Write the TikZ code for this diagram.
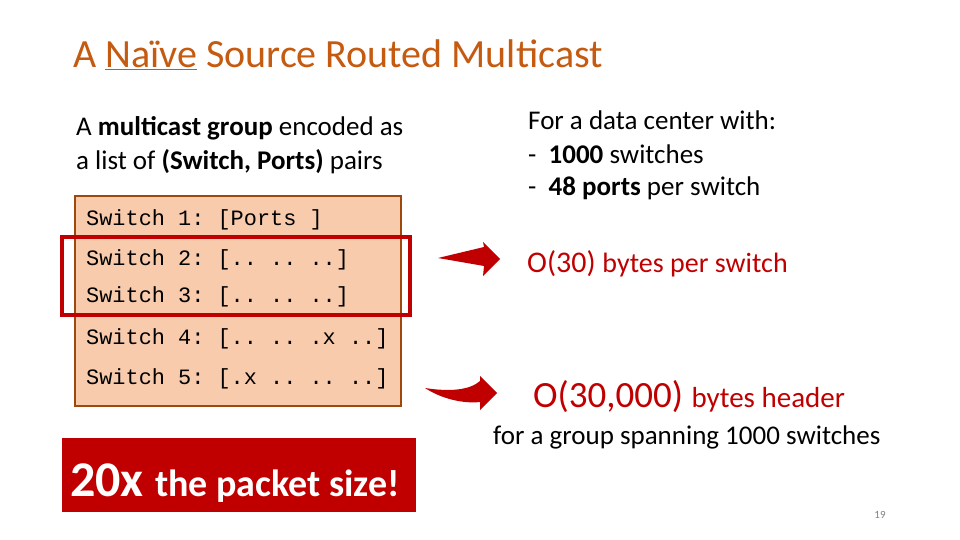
\documentclass[tikz,border=0pt]{standalone}
\usepackage{fontspec}
\setmainfont{Carlito}
\setmonofont{Liberation Mono}
\usetikzlibrary{positioning}
\definecolor{titlebrown}{HTML}{C55A11}
\definecolor{peach}{HTML}{F8CBAD}
\definecolor{deepred}{HTML}{C00000}
\tikzset{
  body text/.style={anchor=west, inner sep=0pt, font=\fontsize{27}{30}\selectfont},
  mono line/.style={anchor=west, inner sep=0pt, font=\ttfamily\fontsize{21.9}{24}\selectfont},
  fat arrow/.style={fill=deepred, draw=none}
}
\begin{document}
\begin{tikzpicture}[x=1pt,y=-1pt]
\useasboundingbox (0,0) rectangle (960,540);
% title
\node (title) [anchor=base west, inner sep=0pt, text=titlebrown, font=\fontsize{40}{44}\selectfont]
  at (73,68) {A \underline{Naïve} Source Routed Multicast};
% left description
\node (desc1) [body text] at (76,128) {A \textbf{multicast group} encoded as};
\node (desc2) [body text] at (76,162) {a list of \textbf{(Switch, Ports)} pairs};
% list box
\draw[fill=peach, draw=titlebrown!80!black, line width=1.5pt] (75,196) rectangle (401,406);
\node (sw1) [mono line] at (86,220) {Switch 1: [Ports ]};
\node (sw2) [mono line] at (86,260) {Switch 2: [.. .. ..]};
\node (sw3) [mono line] at (86,297) {Switch 3: [.. .. ..]};
\node (sw4) [mono line] at (86,339) {Switch 4: [.. .. .x ..]};
\node (sw5) [mono line] at (86,379) {Switch 5: [.x .. .. ..]};
\draw[deepred, line width=4pt] (62,237) rectangle (410,315);
% right description
\node (dc1) [body text] at (528,120) {For a data center with:};
\node (dc2) [body text] at (528,154) {-\ \ \textbf{1000} switches};
\node (dc3) [body text] at (528,188) {-\ \ \textbf{48 ports} per switch};
% arrows
\path[fat arrow] (438,258) -- (484,247) -- (483,242) -- (500,259) -- (483,276) -- (484,266) -- cycle;
\path[fat arrow] (425,388) .. controls (450,392) and (470,390) .. (480,381) -- (480,376)
  -- (497,393) -- (480,410) -- (480,402) .. controls (462,404) and (440,398) .. cycle;
% results
\node (per) [anchor=base west, inner sep=0pt, text=deepred, font=\fontsize{30}{33}\selectfont]
  at (527,272) {O(30) {\fontsize{28}{30}\selectfont bytes per switch}};
\node (hdr) [anchor=base west, inner sep=0pt, text=deepred, font=\fontsize{37}{40}\selectfont]
  at (533,407) {O(30,000) {\fontsize{29}{32}\selectfont bytes header}};
\node (span) [body text] at (493,437) {for a group spanning 1000 switches};
% big statement
\node (big) [fill=deepred, minimum width=354pt, minimum height=74pt, inner sep=0pt, anchor=north west]
  at (62,438) {};
\node [anchor=base west, inner sep=0pt, text=white, font=\bfseries\fontsize{50}{54}\selectfont]
  at (70,496) {20x {\fontsize{38}{40}\selectfont the packet size!}};
\node (page) [text=gray, font=\fontsize{11}{13}\selectfont] at (880,515) {19};
\end{tikzpicture}
\end{document}
